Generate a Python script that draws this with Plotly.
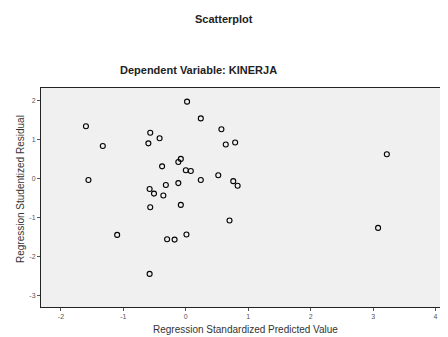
import plotly.graph_objects as go

pred = [-1.60, -1.56, -1.33, 0.02, 0.24, -0.57, -0.42, -0.60, 0.57, 0.64, 0.79, 3.22,
        -0.08, -0.12, -0.38, 0.00, 0.08, 0.52, 0.24, 0.76, 0.83, -0.12, -0.32, -0.58,
        -0.51, -0.36, -0.57, -0.08, 0.70, -1.10, -0.30, -0.18, 0.01, -0.58, 3.08]
resid = [1.34, -0.04, 0.83, 1.97, 1.54, 1.17, 1.03, 0.90, 1.26, 0.87, 0.92, 0.62,
         0.50, 0.42, 0.31, 0.21, 0.19, 0.08, -0.04, -0.07, -0.19, -0.12, -0.17, -0.27,
         -0.39, -0.44, -0.74, -0.68, -1.08, -1.45, -1.56, -1.57, -1.44, -2.45, -1.27]

x_ticks = [-2, -1, 0, 1, 2, 3, 4]
y_ticks = [-3, -2, -1, 0, 1, 2]

# page body has an 8px margin, so the figure is 8px smaller and coordinates shifted
OFF = 8
W, H = 448 - OFF, 337 - OFF
L, T, B = 41 - OFF, 88 - OFF, 30
PW, PH = W - L, H - T - B


def px_x(x):
    return (x - OFF - L) / PW


def px_y(y):
    return (H - B - (y - OFF)) / PH


fig = go.Figure()
fig.add_trace(go.Scatter(
    x=pred, y=resid, mode="markers",
    marker=dict(symbol="circle-open", size=5, color="black", line=dict(width=1.1)),
    showlegend=False,
))

font_family = "Liberation Sans, Arial, sans-serif"
fig.update_layout(
    width=W, height=H,
    margin=dict(l=L, r=0, t=T, b=B, autoexpand=False),
    paper_bgcolor="white",
    plot_bgcolor="#f0f0f0",
    font=dict(family=font_family, color="#333"),
    xaxis=dict(
        range=[-2.32, 4.2], tickvals=x_ticks, ticktext=[str(v) for v in x_ticks],
        showgrid=False, zeroline=False, showline=True, linecolor="#222", linewidth=1,
        mirror=True, ticks="outside", ticklen=3, tickcolor="#555",
        tickfont=dict(size=7, color="#555"), automargin=False,
    ),
    yaxis=dict(
        range=[-3.3, 2.32], tickvals=y_ticks, ticktext=[str(v) for v in y_ticks],
        showgrid=False, zeroline=False, showline=True, linecolor="#222", linewidth=1,
        mirror=True, ticks="outside", ticklen=3, tickcolor="#555",
        tickfont=dict(size=7, color="#555"), automargin=False,
    ),
    annotations=[
        dict(text="<b>Scatterplot</b>", xref="paper", yref="paper",
             x=px_x(224), y=px_y(19), xanchor="center", yanchor="middle",
             showarrow=False, font=dict(size=11, color="#222")),
        dict(text="<b>Dependent Variable: KINERJA</b>", xref="paper", yref="paper",
             x=px_x(198), y=px_y(70), xanchor="center", yanchor="middle",
             showarrow=False, font=dict(size=11, color="#222")),
        dict(text="Regression Standardized Predicted Value", xref="paper", yref="paper",
             x=px_x(245), y=px_y(329), xanchor="center", yanchor="middle",
             showarrow=False, font=dict(size=10, color="#333")),
        dict(text="Regression Studentized Residual", xref="paper", yref="paper",
             x=px_x(20), y=px_y(189), xanchor="center", yanchor="middle",
             textangle=-90, showarrow=False, font=dict(size=10, color="#333")),
    ],
)

fig.write_html("out.html")
